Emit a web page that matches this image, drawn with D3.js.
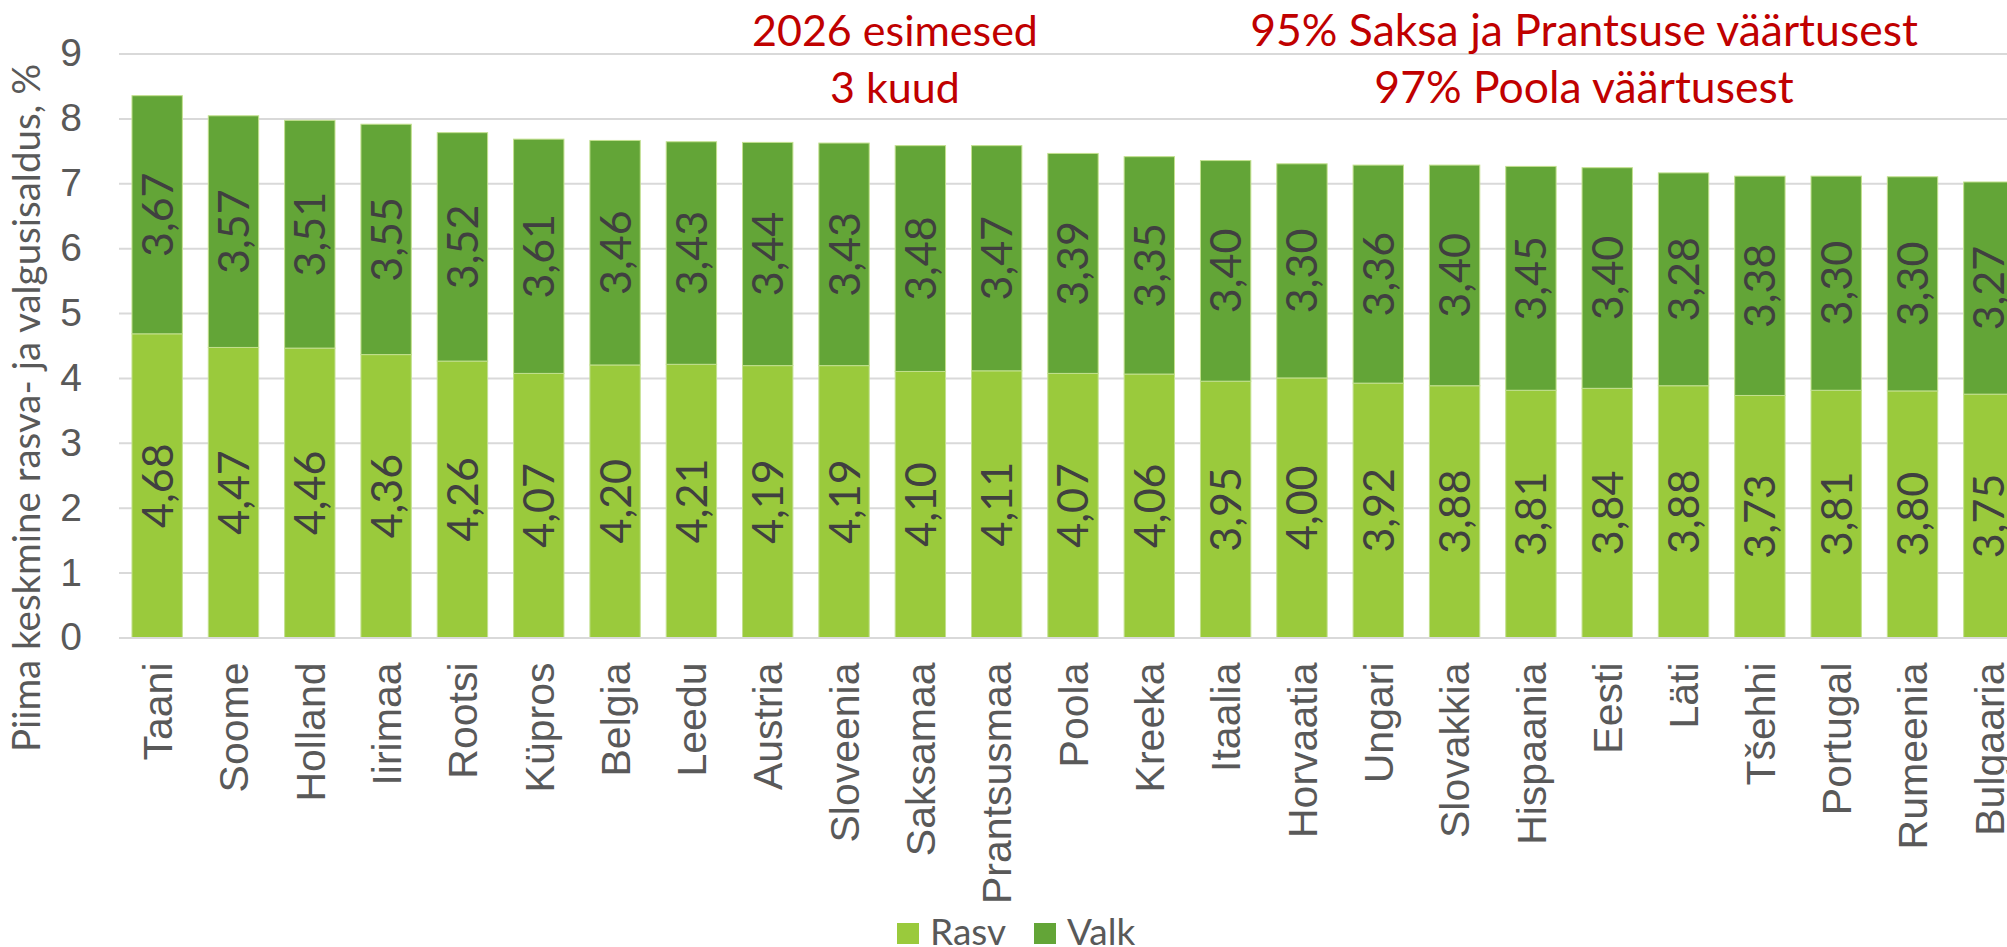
<!DOCTYPE html>
<html>
<head>
<meta charset="utf-8">
<script src="https://cdn.jsdelivr.net/npm/d3@7"></script>
<style>
  body { margin: 0; background: #fff; }
  svg { display: block; font-family: Lato, "Open Sans", sans-serif; }
</style>
</head>
<body>
<div id="chart"></div>
<script>
// data
const countries = ["Taani","Soome","Holland","Iirimaa","Rootsi","Küpros","Belgia","Leedu","Austria","Sloveenia","Saksamaa","Prantsusmaa","Poola","Kreeka","Itaalia","Horvaatia","Ungari","Slovakkia","Hispaania","Eesti","Läti","Tšehhi","Portugal","Rumeenia","Bulgaaria"];
const rasv = [4.68,4.47,4.46,4.36,4.26,4.07,4.20,4.21,4.19,4.19,4.10,4.11,4.07,4.06,3.95,4.00,3.92,3.88,3.81,3.84,3.88,3.73,3.81,3.80,3.75];
const valk = [3.67,3.57,3.51,3.55,3.52,3.61,3.46,3.43,3.44,3.43,3.48,3.47,3.39,3.35,3.40,3.30,3.36,3.40,3.45,3.40,3.28,3.38,3.30,3.30,3.27];
const seriesNames = ["Rasv","Valk"];
const yTicks = [0,1,2,3,4,5,6,7,8,9];
const noteLeft = ["2026 esimesed","3 kuud"];
const noteRight = ["95% Saksa ja Prantsuse väärtusest","97% Poola väärtusest"];

const width = 2007, height = 947;
const colors = {Rasv: "#9ACA3C", Valk: "#63A537"};

const svg = d3.select("#chart")
  .append("svg")
    .attr("width", width)
    .attr("height", height)
    .style("overflow", "hidden");

// scales
const x = d3.scaleBand()
  .domain(countries)
  .range([119, 2027])
  .paddingInner(0.34)
  .paddingOuter(0.17);

const y = d3.scaleLinear()
  .domain([0, 9])
  .range([637.5, 53.5]);

// gridlines + y ticks
const yAxis = svg.append("g")
  .attr("transform", "translate(119,0)")
  .call(d3.axisLeft(y).tickValues(yTicks).tickSize(-1900).tickPadding(37).tickFormat(d3.format("d")));
yAxis.select(".domain").remove();
yAxis.selectAll(".tick line").attr("stroke", "#D9D9D9").attr("stroke-width", 2);
yAxis.selectAll(".tick text")
  .attr("fill", "#595959")
  .style("font-size", "39px");

// stacked data
const table = countries.map((c, i) => ({country: c, Rasv: rasv[i], Valk: valk[i]}));
const stacked = d3.stack().keys(seriesNames)(table);

const layers = svg.append("g")
  .selectAll("g")
  .data(stacked)
  .join("g")
    .attr("fill", d => colors[d.key]);

layers.selectAll("rect")
  .data(d => d)
  .join("rect")
    .attr("x", d => x(d.data.country))
    .attr("width", x.bandwidth())
    .attr("y", d => y(d[1]))
    .attr("height", d => y(d[0]) - y(d[1]))
    .attr("stroke", "#C3E08F")
    .attr("stroke-width", 1);

// value labels inside segments
layers.selectAll("text")
  .data(d => d)
  .join("text")
    .attr("transform", d => `translate(${x(d.data.country) + x.bandwidth() / 2},${y((d[0] + d[1]) / 2)}) rotate(-90)`)
    .attr("text-anchor", "middle")
    .attr("dy", "0.36em")
    .attr("fill", "#404040")
    .style("font-size", "43px")
    .text(d => d3.format(".2f")(d[1] - d[0]).replace(".", ","));

// category axis
const xAxis = svg.append("g")
  .attr("transform", `translate(0,${y(0)})`)
  .call(d3.axisBottom(x).tickSize(0));
xAxis.select(".domain").attr("stroke", "#D9D9D9").attr("stroke-width", 2);
xAxis.selectAll(".tick text")
  .attr("transform", "rotate(-90)")
  .attr("x", -25)
  .attr("y", 0)
  .attr("dy", "0.36em")
  .attr("text-anchor", "end")
  .attr("fill", "#595959")
  .style("font-size", "41px");

// y axis title
svg.append("text")
  .attr("transform", "translate(26,408) rotate(-90)")
  .attr("text-anchor", "middle")
  .attr("dy", "0.36em")
  .attr("fill", "#595959")
  .style("font-size", "38.5px")
  .text("Piima keskmine rasva- ja valgusisaldus, %");

// red notes
svg.append("g")
  .selectAll("text")
  .data(noteLeft)
  .join("text")
    .attr("x", 895)
    .attr("y", (d, i) => 46 + i * 57)
    .attr("text-anchor", "middle")
    .attr("fill", "#C00000")
    .style("font-size", "43px")
    .text(d => d);

svg.append("g")
  .selectAll("text")
  .data(noteRight)
  .join("text")
    .attr("x", 1584)
    .attr("y", (d, i) => 46 + i * 57)
    .attr("text-anchor", "middle")
    .attr("fill", "#C00000")
    .style("font-size", "44.5px")
    .text(d => d);

// legend
const legend = svg.append("g")
  .selectAll("g")
  .data(seriesNames)
  .join("g")
    .attr("transform", (d, i) => `translate(${897 + i * 137},923)`);
legend.append("rect")
  .attr("width", 22)
  .attr("height", 21)
  .attr("fill", d => colors[d]);
legend.append("text")
  .attr("x", 33)
  .attr("y", 22)
  .attr("fill", "#595959")
  .style("font-size", "37px")
  .text(d => d);
</script>
</body>
</html>
